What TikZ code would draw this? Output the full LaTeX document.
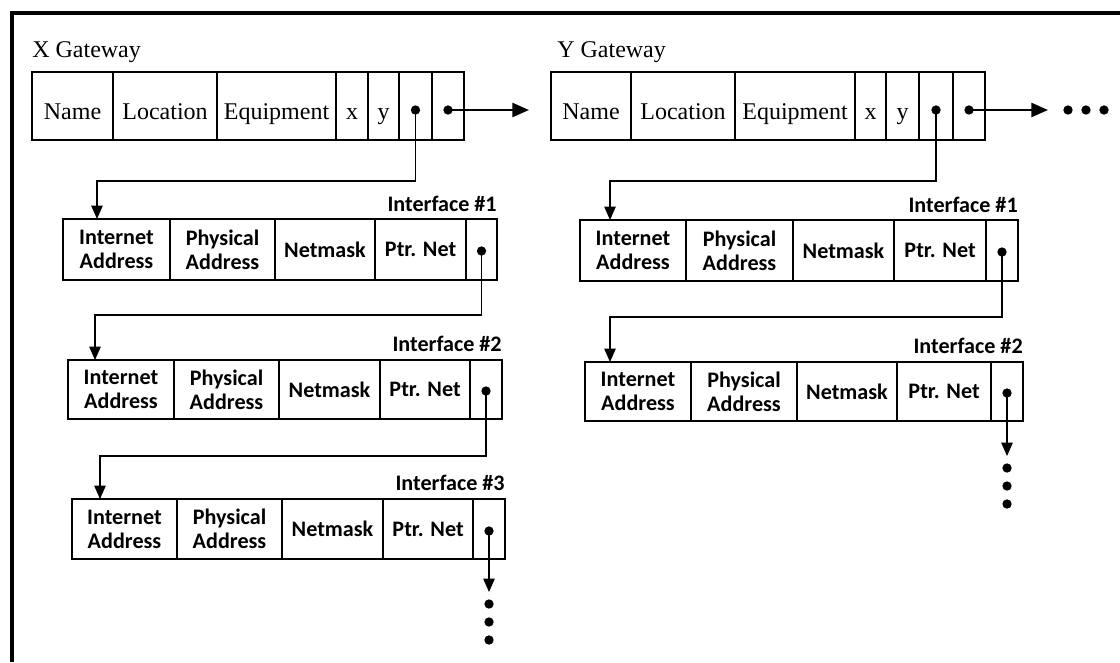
\documentclass[tikz,border=0pt]{standalone}
\usepackage{fontspec}
\setmainfont{Liberation Serif}
\newfontfamily\ifont{Carlito}
\usetikzlibrary{arrows.meta}
% style, name, x1, x2, top, bottom, text
\newcommand\mkcell[7]{\node[#1, minimum width={(#4-#3)*0.75pt}, minimum height={(#6-#5)*0.75pt}] (#2) at ({(#3+#4)/2},{(#5+#6)/2}) {#7};}
\begin{document}
\begin{tikzpicture}[x=0.75pt,y=-0.75pt,
  cellbox/.style={draw, line width=1.1pt, inner sep=0pt, align=center},
  gw/.style={cellbox, font=\fontsize{18}{21}\selectfont, text height=19.5pt, text depth=0pt},
  ifc/.style={cellbox, font=\ifont\bfseries\fontsize{16.6}{18}\selectfont},
  ptr/.style={circle, fill, inner sep=0pt, minimum size=7pt},
  link/.style={line width=1.1pt, -{Triangle[length=10pt,width=8.5pt]}},
  bigarrow/.style={line width=1.9pt, -{Triangle[length=12.5pt,width=10.5pt]}},
  title/.style={font=\fontsize{18}{21}\selectfont, anchor=base west, inner sep=0pt},
  ilabel/.style={font=\ifont\bfseries\fontsize{16.6}{18}\selectfont, anchor=base east, inner sep=0pt},
  frame/.style={line width=2.6pt}
]
\useasboundingbox (0,0) rectangle (1120,662);
\draw[frame] (12,662) -- (12,13) -- (1120,13);

% ---------- X gateway ----------
\node[title] (xtitle) at (32,57) {X Gateway};
\mkcell{gw}{xa}{32}{113}{72}{140}{Name}
\mkcell{gw}{xb}{113}{217}{72}{140}{Location}
\mkcell{gw}{xc}{217}{336}{72}{140}{Equipment}
\mkcell{gw}{xd}{336}{368}{72}{140}{x}
\mkcell{gw}{xe}{368}{399}{72}{140}{y}
\mkcell{gw}{xf}{399}{432}{72}{140}{}
\mkcell{gw}{xg}{432}{464}{72}{140}{}
\node[ptr] (xp1) at (415.5,110) {};
\node[ptr] (xp2) at (448,110) {};

% ---------- Y gateway ----------
\node[title] (ytitle) at (557,57) {Y Gateway};
\mkcell{gw}{ya}{551}{631}{72}{140}{Name}
\mkcell{gw}{yb}{631}{735}{72}{140}{Location}
\mkcell{gw}{yc}{735}{855}{72}{140}{Equipment}
\mkcell{gw}{yd}{855}{886}{72}{140}{x}
\mkcell{gw}{ye}{886}{919}{72}{140}{y}
\mkcell{gw}{yf}{919}{953}{72}{140}{}
\mkcell{gw}{yg}{953}{985}{72}{140}{}
\node[ptr] (yp1) at (936,110) {};
\node[ptr] (yp2) at (969,110) {};
\node[ptr] (ye1) at (1068,110) {};
\node[ptr] (ye2) at (1086,110) {};
\node[ptr] (ye3) at (1104,110) {};

% ---------- X interfaces ----------
\node[ilabel] (xl1) at (497,211) {Interface \#1};
\mkcell{ifc}{x1a}{63}{170}{219}{280}{Internet\\Address}
\mkcell{ifc}{x1b}{170}{275}{219}{280}{Physical\\Address}
\mkcell{ifc}{x1c}{275}{375}{219}{280}{Netmask}
\mkcell{ifc}{x1d}{375}{466}{219}{280}{Ptr. Net}
\mkcell{ifc}{x1e}{466}{497}{219}{280}{}
\node[ptr] (x1p) at (481.5,251) {};

\node[ilabel] (xl2) at (502,351) {Interface \#2};
\mkcell{ifc}{x2a}{68}{174}{360}{419}{Internet\\Address}
\mkcell{ifc}{x2b}{174}{279}{360}{419}{Physical\\Address}
\mkcell{ifc}{x2c}{279}{380}{360}{419}{Netmask}
\mkcell{ifc}{x2d}{380}{470}{360}{419}{Ptr. Net}
\mkcell{ifc}{x2e}{470}{502}{360}{419}{}
\node[ptr] (x2p) at (486,391) {};

\node[ilabel] (xl3) at (505,490) {Interface \#3};
\mkcell{ifc}{x3a}{72}{177}{499}{559}{Internet\\Address}
\mkcell{ifc}{x3b}{177}{282}{499}{559}{Physical\\Address}
\mkcell{ifc}{x3c}{282}{383}{499}{559}{Netmask}
\mkcell{ifc}{x3d}{383}{473}{499}{559}{Ptr. Net}
\mkcell{ifc}{x3e}{473}{505}{499}{559}{}
\node[ptr] (x3p) at (489,531) {};
\node[ptr] (xe1) at (489,604) {};
\node[ptr] (xe2) at (489,622) {};
\node[ptr] (xe3) at (489,640) {};

% ---------- Y interfaces ----------
\node[ilabel] (yl1) at (1018,212) {Interface \#1};
\mkcell{ifc}{y1a}{580}{686}{220}{281}{Internet\\Address}
\mkcell{ifc}{y1b}{686}{793}{220}{281}{Physical\\Address}
\mkcell{ifc}{y1c}{793}{894}{220}{281}{Netmask}
\mkcell{ifc}{y1d}{894}{986}{220}{281}{Ptr. Net}
\mkcell{ifc}{y1e}{986}{1018}{220}{281}{}
\node[ptr] (y1p) at (1002,252) {};

\node[ilabel] (yl2) at (1023,353) {Interface \#2};
\mkcell{ifc}{y2a}{585}{691}{362}{421}{Internet\\Address}
\mkcell{ifc}{y2b}{691}{797}{362}{421}{Physical\\Address}
\mkcell{ifc}{y2c}{797}{897}{362}{421}{Netmask}
\mkcell{ifc}{y2d}{897}{991}{362}{421}{Ptr. Net}
\mkcell{ifc}{y2e}{991}{1023}{362}{421}{}
\node[ptr] (y2p) at (1007,393) {};
\node[ptr] (yv1) at (1007,468) {};
\node[ptr] (yv2) at (1007,486) {};
\node[ptr] (yv3) at (1007,504) {};

% ---------- bend points and arrow ends ----------
\coordinate (xk0) at (97,181);   \coordinate (xt0) at (97,219);
\coordinate (xk1) at (95,315);   \coordinate (xt1) at (95,360);
\coordinate (xk2) at (100,456);  \coordinate (xt2) at (100,499);
\coordinate (xt3) at (489,592);
\coordinate (yk0) at (610,181);  \coordinate (yt0) at (610,220);
\coordinate (yk1) at (610,317);  \coordinate (yt1) at (610,362);
\coordinate (yt2) at (1007,456);
\coordinate (xh) at (529,110);
\coordinate (yh) at (1048,110);

% ---------- connectors ----------
\draw[bigarrow] (xp2.center) -- (xh);
\draw[bigarrow] (yp2.center) -- (yh);
\draw[link] (xp1.center) |- (xk0) -- (xt0);
\draw[link] (x1p.center) |- (xk1) -- (xt1);
\draw[link] (x2p.center) |- (xk2) -- (xt2);
\draw[link] (x3p.center) -- (xt3);
\draw[link] (yp1.center) |- (yk0) -- (yt0);
\draw[link] (y1p.center) |- (yk1) -- (yt1);
\draw[link] (y2p.center) -- (yt2);
\end{tikzpicture}
\end{document}
